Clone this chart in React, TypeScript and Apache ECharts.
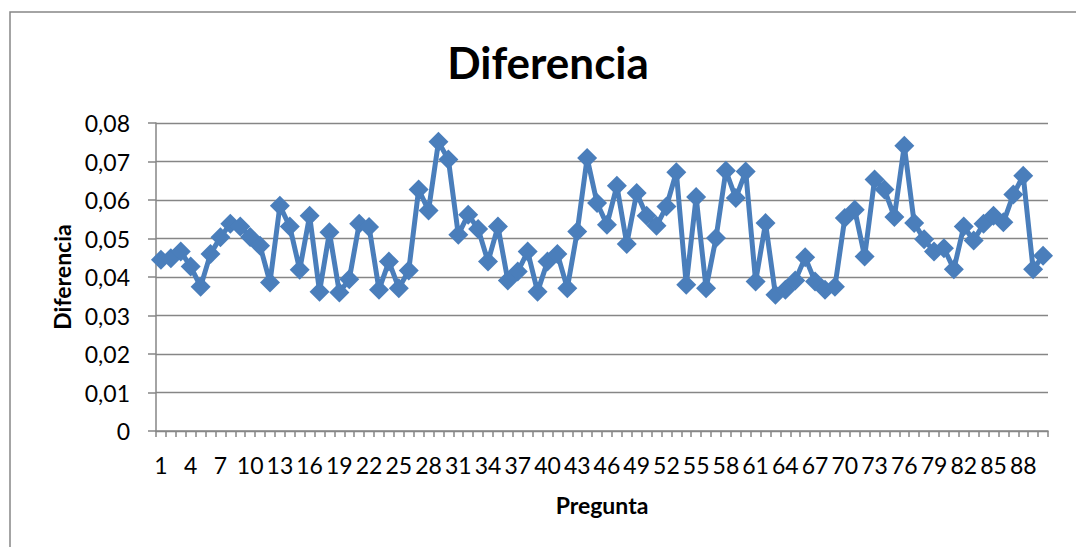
import React, { useEffect, useRef } from "react";
import * as echarts from "echarts";

const titleText = "Diferencia";
const xAxisTitle = "Pregunta";
const yAxisTitle = "Diferencia";

const diferencia: number[] = [
  0.0445, 0.0449, 0.0466, 0.0427, 0.0375, 0.046, 0.0503, 0.0538, 0.0531, 0.0504,
  0.0481, 0.0386, 0.0585, 0.0531, 0.0419, 0.0559, 0.0362, 0.0516, 0.036, 0.0394,
  0.0538, 0.053, 0.0367, 0.044, 0.0371, 0.0417, 0.0627, 0.0573, 0.0751, 0.0705,
  0.051, 0.0562, 0.0525, 0.044, 0.0531, 0.0391, 0.0414, 0.0466, 0.0362, 0.044,
  0.046, 0.0371, 0.0518, 0.0709, 0.0592, 0.0536, 0.0637, 0.0486, 0.0618, 0.0559,
  0.0533, 0.0583, 0.0672, 0.038, 0.0608, 0.0371, 0.0501, 0.0676, 0.0605, 0.0674,
  0.0388, 0.054, 0.0354, 0.0367, 0.0391, 0.0451, 0.0388, 0.0367, 0.0375, 0.0553,
  0.0575, 0.0453, 0.0653, 0.0627, 0.0556, 0.0741, 0.054, 0.0498, 0.0466, 0.0475,
  0.042, 0.0531, 0.0495, 0.0538, 0.0559, 0.0542, 0.0614, 0.0663, 0.042, 0.0455,
];

const preguntas: string[] = diferencia.map((_, i) => String(i + 1));

const yMin = 0;
const yMax = 0.08;
const yStep = 0.01;

const FONT = "Lato, 'Open Sans', sans-serif";
const GREY = "#868686";

export default function App() {
  const ref = useRef<HTMLDivElement>(null);

  useEffect(() => {
    document.body.style.margin = "0";
    if (!ref.current) return;
    const chart = echarts.init(ref.current, undefined, { renderer: "svg" });
    chart.setOption({
      animation: false,
      backgroundColor: "#ffffff",
      textStyle: { fontFamily: FONT },
      grid: { left: 156, right: 28, top: 123, bottom: 116 },
      graphic: [
        {
          type: "rect",
          shape: { x: 10, y: 12, width: 1100, height: 600 },
          style: { fill: "none", stroke: GREY, lineWidth: 1.5 },
          silent: true,
        },
        {
          type: "text",
          x: 548,
          y: 62,
          style: {
            text: titleText,
            fontFamily: FONT,
            fontWeight: "bold",
            fontSize: 44,
            fill: "#000",
            textAlign: "center",
            textVerticalAlign: "middle",
          },
        },
      ],
      xAxis: {
        type: "category",
        data: preguntas,
        boundaryGap: true,
        name: xAxisTitle,
        nameLocation: "middle",
        nameGap: 62,
        nameTextStyle: { fontFamily: FONT, fontWeight: "bold", fontSize: 23, color: "#000" },
        axisLine: { lineStyle: { color: GREY, width: 1.5 } },
        axisTick: { show: true, interval: 0, length: 6, lineStyle: { color: GREY, width: 1.5 } },
        axisLabel: {
          interval: 2,
          margin: 22,
          fontFamily: FONT,
          fontSize: 23,
          color: "#000",
          hideOverlap: false,
        },
        splitLine: { show: false },
      },
      yAxis: {
        type: "value",
        min: yMin,
        max: yMax,
        interval: yStep,
        name: yAxisTitle,
        nameLocation: "middle",
        nameGap: 80,
        nameTextStyle: { fontFamily: FONT, fontWeight: "bold", fontSize: 23, color: "#000" },
        axisLine: { show: true, lineStyle: { color: GREY, width: 1.5 } },
        axisTick: { show: true, length: 8, lineStyle: { color: GREY, width: 1.5 } },
        axisLabel: {
          margin: 26,
          fontFamily: FONT,
          fontSize: 23,
          color: "#000",
          formatter: (v: number) => (v === 0 ? "0" : v.toFixed(2).replace(".", ",")),
        },
        splitLine: { show: true, lineStyle: { color: GREY, width: 1.3 } },
      },
      series: [
        {
          type: "line",
          name: yAxisTitle,
          data: diferencia,
          symbol: "diamond",
          symbolSize: 20,
          showSymbol: true,
          showAllSymbol: true,
          lineStyle: { color: "#4a7ebb", width: 5 },
          itemStyle: { color: "#4a7ebb" },
        },
      ],
    });
    return () => chart.dispose();
  }, []);

  return <div ref={ref} style={{ width: 1076, height: 547 }} />;
}
